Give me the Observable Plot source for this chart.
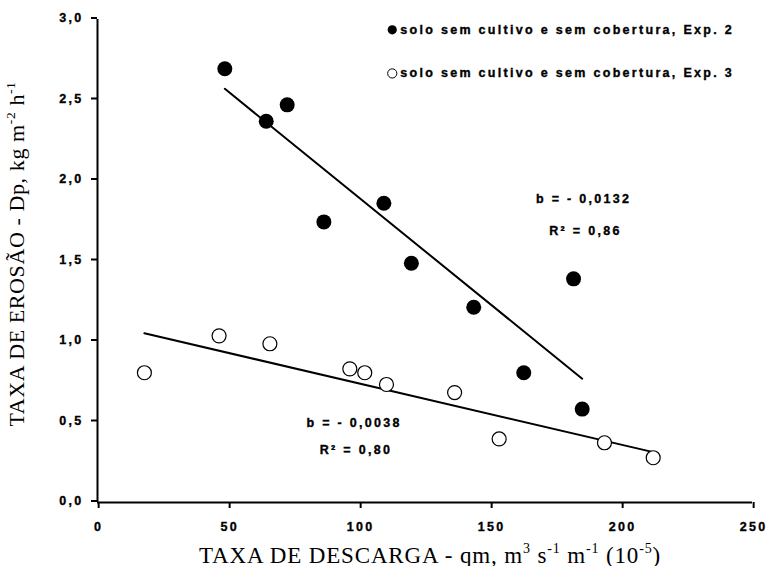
<!DOCTYPE html>
<html>
<head>
<meta charset="utf-8">
<script src="https://cdn.jsdelivr.net/npm/d3@7"></script>
<script src="https://cdn.jsdelivr.net/npm/@observablehq/plot@0.6"></script>
<style>
  html, body { margin: 0; padding: 0; background: #fff; }
  #chart { width: 768px; height: 566px; }
</style>
</head>
<body>
<div id="chart"></div>
<script>
// ---- data ----
const exp2X = [48.6, 64.4, 72.4, 86.4, 109.3, 119.8, 143.6, 162.7, 181.7, 185.0];
const exp2Y = [2.694, 2.368, 2.470, 1.743, 1.859, 1.486, 1.213, 0.806, 1.389, 0.580];
const exp3X = [17.9, 46.4, 65.8, 96.3, 102.0, 110.3, 136.3, 153.3, 193.5, 212.1];
const exp3Y = [0.806, 1.035, 0.986, 0.830, 0.806, 0.733, 0.683, 0.395, 0.371, 0.278];
const fitSlope = [-0.0132, -0.0038];
const fitIntercept = [3.211, 1.119];
const seriesNames = ["solo sem cultivo e sem cobertura, Exp. 2", "solo sem cultivo e sem cobertura, Exp. 3"];
const fitLabelsB = ["b = - 0,0132", "b = - 0,0038"];
const fitLabelsR = ["R\u00B2 = 0,86", "R\u00B2 = 0,80"];
const xTicks = [0, 50, 100, 150, 200, 250];
const yTicks = [0, 0.5, 1.0, 1.5, 2.0, 2.5, 3.0];

const exp2 = exp2X.map((x, i) => ({x, y: exp2Y[i]}));
const exp3 = exp3X.map((x, i) => ({x, y: exp3Y[i]}));
function fitLine(xs, k) {
  const lo = d3.min(xs), hi = d3.max(xs);
  return [lo, hi].map(x => ({x, y: fitIntercept[k] + fitSlope[k] * x}));
}
const fit2 = fitLine(exp2X, 0);
const fit3 = fitLine(exp3X, 1);

const sans = "'Liberation Sans', Arial, sans-serif";
const serif = "'Liberation Serif', 'Times New Roman', serif";
const FS = 12.5, LS = 2.3;
const txt = {fontSize: FS, fontWeight: "bold", fontFamily: sans, fill: "#000"};

const plot = Plot.plot({
  width: 768,
  height: 566,
  marginLeft: 97,
  marginRight: 16,
  marginTop: 19,
  marginBottom: 64,
  style: `font-family: 'Liberation Sans', Arial, sans-serif; font-size: ${FS}px; font-weight: bold; letter-spacing: ${LS}px; color: #000; background: #fff; overflow: visible;`,
  x: {domain: [0, 250]},
  y: {domain: [0, 3]},
  marks: [
    Plot.axisX({ticks: xTicks, tickFormat: d => String(d), tickSize: 6, tickPadding: 14, strokeWidth: 2, dx: LS / 2,
      fontSize: FS, fontWeight: "bold",
      label: "TAXA DE DESCARGA", labelAnchor: "center", labelOffset: 60, labelArrow: false}),
    Plot.axisY({ticks: yTicks, tickFormat: d => d.toFixed(1).replace(".", ","), tickSize: 6, tickPadding: 8, strokeWidth: 2, dy: -1.5,
      fontSize: FS, fontWeight: "bold",
      label: "TAXA DE EROSÃO", labelAnchor: "center", labelOffset: 89, labelArrow: false}),
    Plot.ruleY([0], {stroke: "#000", strokeWidth: 2}),
    Plot.ruleX([0], {stroke: "#000", strokeWidth: 2}),
    Plot.line(fit2, {x: "x", y: "y", stroke: "#000", strokeWidth: 2}),
    Plot.line(fit3, {x: "x", y: "y", stroke: "#000", strokeWidth: 2}),
    Plot.dot(exp3, {x: "x", y: "y", r: 7, fill: "#fff", stroke: "#000", strokeWidth: 1.2}),
    Plot.dot(exp2, {x: "x", y: "y", r: 7.5, fill: "#000", stroke: "none"}),
    // legend
    Plot.dot([seriesNames[0]], {x: 112.5, y: 2.936, r: 4.6, fill: "#000", stroke: "none"}),
    Plot.dot([seriesNames[1]], {x: 112.5, y: 2.665, r: 4.6, fill: "#fff", stroke: "#000", strokeWidth: 1}),
    Plot.text([seriesNames[0]], {x: 112.5, y: 2.936, text: d => d, textAnchor: "start", dx: 8, ...txt}),
    Plot.text([seriesNames[1]], {x: 112.5, y: 2.665, text: d => d, textAnchor: "start", dx: 8, ...txt}),
    // regression annotations
    Plot.text([fitLabelsB[0]], {x: 185.1, y: 1.888, text: d => d, dx: LS / 2, ...txt}),
    Plot.text([fitLabelsR[0]], {x: 185.1, y: 1.689, text: d => d, dx: 3, ...txt}),
    Plot.text([fitLabelsB[1]], {x: 97.5, y: 0.491, text: d => d, dx: LS / 2, ...txt}),
    Plot.text([fitLabelsR[1]], {x: 97.5, y: 0.329, text: d => d, dx: 3, ...txt})
  ]
});

const svg = d3.select(plot);
// heavy bold sans texts like the reference
svg.selectAll("text")
  .attr("font-weight", "bold").attr("font-family", sans).attr("font-size", FS)
  .attr("fill", "#000").attr("stroke", "#000").attr("stroke-width", 0.35)
  .style("letter-spacing", LS + "px");

// rich axis titles with superscripts
function rich(sel, parts, shift, size, sup, spacing) {
  sel.text(null)
    .attr("font-family", serif)
    .attr("font-weight", "normal")
    .attr("font-size", size + "px")
    .attr("stroke", "none")
    .attr("dx", shift)
    .style("letter-spacing", spacing + "px");
  let afterSup = false;
  parts.forEach(([t, isSup]) => {
    if (isSup) {
      sel.append("tspan").attr("font-size", sup + "px").attr("dy", -0.4 * size).text(t);
      afterSup = true;
    } else {
      const ts = sel.append("tspan").text(t);
      if (afterSup) ts.attr("dy", 0.4 * size);
      afterSup = false;
    }
  });
}
const xl = svg.select('g[aria-label="x-axis label"] text');
rich(xl, [["TAXA DE DESCARGA - qm, m", false], ["3", true], [" s", false], ["-1", true], [" m", false], ["-1", true], [" (10", false], ["-5", true], [")", false]], 5, 23, 14, 0.85);
const yl = svg.select('g[aria-label="y-axis label"] text');
rich(yl, [["TAXA DE EROSÃO - Dp, kg m", false], ["-2", true], [" h", false], ["-1", true]], 7, 22, 13.5, 0.6);

document.getElementById("chart").appendChild(plot);
</script>
</body>
</html>
